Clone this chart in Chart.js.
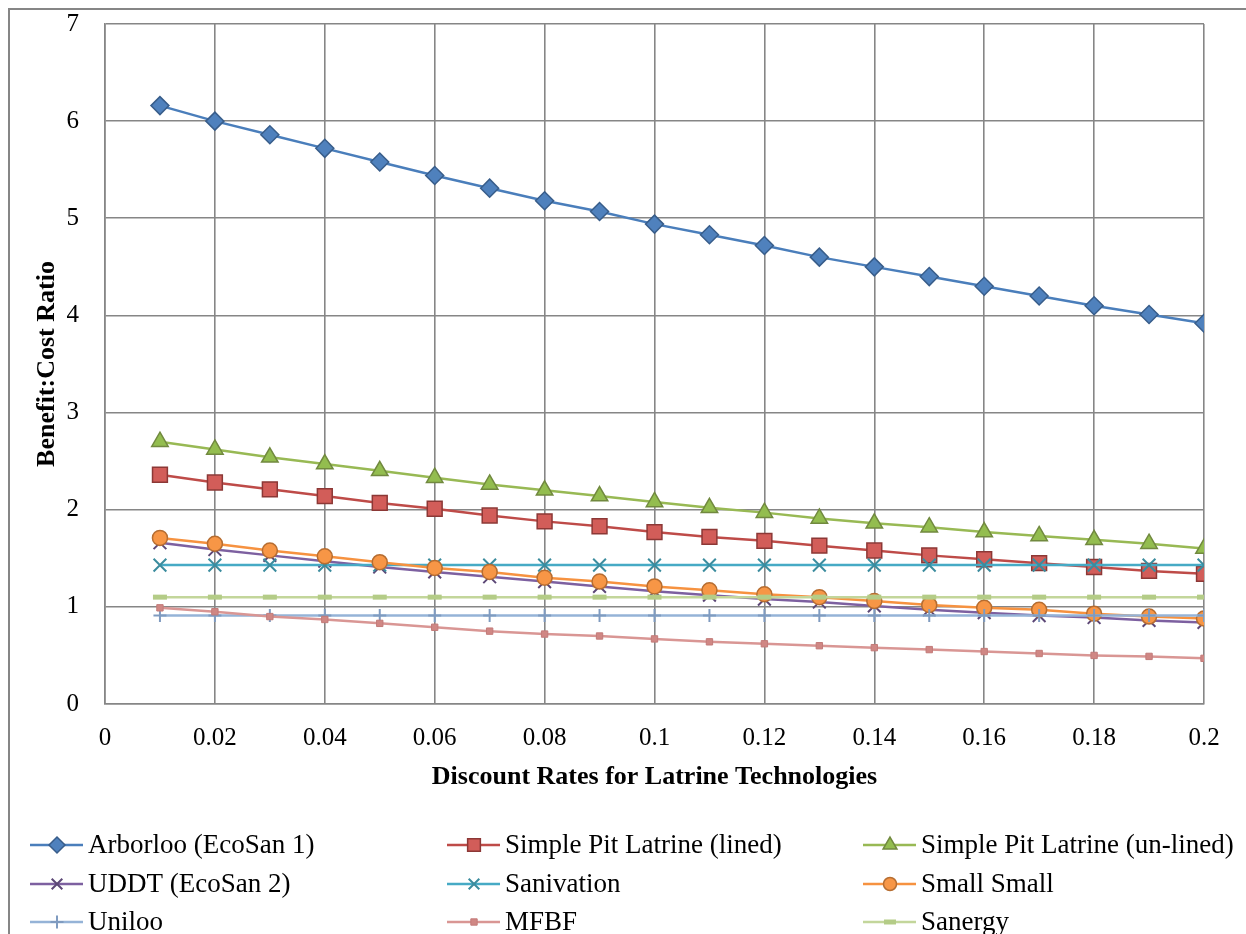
<!DOCTYPE html>
<html>
<head>
<meta charset="utf-8">
<script src="https://cdn.jsdelivr.net/npm/chart.js@4.4.1/dist/chart.umd.min.js"></script>
<style>
html,body{margin:0;padding:0;background:#fff;}
canvas{display:block;}
</style>
</head>
<body>
<canvas id="c" width="1246" height="934"></canvas>
<script>
// ---- data ----
const rates = [0.01,0.02,0.03,0.04,0.05,0.06,0.07,0.08,0.09,0.10,0.11,0.12,0.13,0.14,0.15,0.16,0.17,0.18,0.19,0.20];
const xTickLabels = ['0','0.02','0.04','0.06','0.08','0.1','0.12','0.14','0.16','0.18','0.2'];
const yTickLabels = ['0','1','2','3','4','5','6','7'];
const seriesNames = ['Arborloo (EcoSan 1)','Simple Pit Latrine (lined)','Simple Pit Latrine (un-lined)','UDDT (EcoSan 2)','Sanivation','Small Small','Uniloo','MFBF','Sanergy'];
const arborloo   = [6.16,6.00,5.86,5.72,5.58,5.44,5.31,5.18,5.07,4.94,4.83,4.72,4.60,4.50,4.40,4.30,4.20,4.10,4.01,3.92];
const pitLined   = [2.36,2.28,2.21,2.14,2.07,2.01,1.94,1.88,1.83,1.77,1.72,1.68,1.63,1.58,1.53,1.49,1.45,1.41,1.37,1.34];
const pitUnlined = [2.70,2.62,2.54,2.47,2.40,2.33,2.26,2.20,2.14,2.08,2.02,1.97,1.91,1.86,1.82,1.77,1.73,1.69,1.65,1.60];
const uddt       = [1.66,1.59,1.53,1.47,1.41,1.36,1.31,1.26,1.21,1.16,1.12,1.08,1.05,1.01,0.97,0.94,0.91,0.89,0.86,0.84];
const sanivation = [1.43,1.43,1.43,1.43,1.43,1.43,1.43,1.43,1.43,1.43,1.43,1.43,1.43,1.43,1.43,1.43,1.43,1.43,1.43,1.43];
const smallSmall = [1.71,1.65,1.58,1.52,1.46,1.40,1.36,1.30,1.26,1.21,1.17,1.13,1.10,1.06,1.02,0.99,0.97,0.93,0.90,0.88];
const uniloo     = [0.91,0.91,0.91,0.91,0.91,0.91,0.91,0.91,0.91,0.91,0.91,0.91,0.91,0.91,0.91,0.91,0.91,0.91,0.91,0.91];
const mfbf       = [0.99,0.95,0.90,0.87,0.83,0.79,0.75,0.72,0.70,0.67,0.64,0.62,0.60,0.58,0.56,0.54,0.52,0.50,0.49,0.47];
const sanergy    = [1.10,1.10,1.10,1.10,1.10,1.10,1.10,1.10,1.10,1.10,1.10,1.10,1.10,1.10,1.10,1.10,1.10,1.10,1.10,1.10];
const allSeries = [arborloo,pitLined,pitUnlined,uddt,sanivation,smallSmall,uniloo,mfbf,sanergy];

// ---- styles ----
const styles = [
  {line:'#4A7EBB', bg:'#4F81BD', bd:'#385D8A', ps:'rectRot',  r:9,   bw:1.5, lr:8},
  {line:'#BE4B48', bg:'#D25D59', bd:'#8C3836', ps:'rect',     r:10.5,bw:1.5, lr:9},
  {line:'#98B954', bg:'#93BD4F', bd:'#71893F', ps:'triangle', r:9.5, bw:1.5, lr:8},
  {line:'#7D60A0', bg:'#7D60A0', bd:'#5C4776', ps:'crossRot', r:9,   bw:2,   lr:7.5},
  {line:'#46AAC5', bg:'#46AAC5', bd:'#3B8C9E', ps:'crossRot', r:9,   bw:2,   lr:7.5},
  {line:'#F69240', bg:'#F79646', bd:'#B66D31', ps:'circle',   r:7.5, bw:1.5, lr:6.5},
  {line:'#95B3D7', bg:'#95B3D7', bd:'#7F9BC0', ps:'cross',    r:6.5, bw:2,   lr:6.5},
  {line:'#D99694', bg:'#D08784', bd:'#C27B79', ps:'rect',     r:4.5, bw:1,   lr:4.5},
  {line:'#C3D69B', bg:'#B4CC87', bd:'#B4CC87', ps:'line',     r:7,   bw:5,   lr:6}
];

const datasets = allSeries.map((arr, i) => ({
  label: seriesNames[i],
  data: rates.map((r, j) => ({x: r, y: arr[j]})),
  borderColor: styles[i].line,
  borderWidth: 2.5,
  backgroundColor: styles[i].bg,
  pointStyle: styles[i].ps,
  pointRadius: styles[i].r,
  pointHoverRadius: styles[i].r,
  pointBackgroundColor: styles[i].bg,
  pointBorderColor: styles[i].bd,
  pointBorderWidth: styles[i].bw,
  tension: 0,
  fill: false,
  order: -i
}));

const GRID = '#868686';

const framePlugin = {
  id: 'frame',
  beforeDraw(chart) {
    const ctx = chart.ctx;
    ctx.save();
    ctx.fillStyle = '#fff';
    ctx.fillRect(0, 0, chart.width, chart.height);
    ctx.strokeStyle = GRID;
    ctx.lineWidth = 2;
    ctx.strokeRect(9, 9, 1400, 1100);
    ctx.restore();
  }
};

const legendPlugin = {
  id: 'customLegend',
  afterDraw(chart) {
    const ctx = chart.ctx;
    const cols = [30, 447, 863], rows = [845, 884, 922];
    chart.data.datasets.forEach((ds, i) => {
      const st = styles[i];
      const x0 = cols[i % 3], y = rows[Math.floor(i / 3)];
      ctx.save();
      ctx.strokeStyle = st.line;
      ctx.lineWidth = 2.5;
      ctx.beginPath(); ctx.moveTo(x0, y); ctx.lineTo(x0 + 53, y); ctx.stroke();
      ctx.fillStyle = st.bg;
      ctx.strokeStyle = st.bd;
      ctx.lineWidth = st.bw;
      Chart.helpers.drawPoint(ctx, {pointStyle: st.ps, radius: st.lr, rotation: 0, borderWidth: st.bw}, x0 + 27, y);
      ctx.fillStyle = '#000';
      ctx.font = '27px "Liberation Serif"';
      ctx.textBaseline = 'middle';
      ctx.textAlign = 'left';
      ctx.fillText(ds.label, x0 + 58, y + 1);
      ctx.restore();
    });
  }
};

new Chart(document.getElementById('c'), {
  type: 'line',
  data: { datasets },
  plugins: [framePlugin, legendPlugin],
  options: {
    responsive: false,
    animation: false,
    devicePixelRatio: 1,
    layout: { padding: { left: 0, top: 24, right: 42, bottom: 141 } },
    plugins: { legend: { display: false }, tooltip: { enabled: false } },
    scales: {
      x: {
        type: 'linear',
        min: 0, max: 0.2,
        afterBuildTicks(scale) {
          scale.ticks = xTickLabels.map(t => ({ value: parseFloat(t) }));
        },
        afterFit(scale) { scale.height = 89; },
        grid: { color: GRID, lineWidth: 1.6, drawTicks: false },
        border: { color: GRID, width: 1.6 },
        ticks: {
          padding: 19,
          color: '#000',
          font: { family: 'Liberation Serif', size: 25 },
          maxRotation: 0,
          autoSkip: false,
          callback: (v, i) => xTickLabels[i]
        },
        title: {
          display: true,
          text: 'Discount Rates for Latrine Technologies',
          color: '#000',
          font: { family: 'Liberation Serif', size: 26, weight: 'bold' },
          padding: { top: 0, bottom: 0 }
        }
      },
      y: {
        type: 'linear',
        min: 0, max: 7,
        afterBuildTicks(scale) {
          scale.ticks = yTickLabels.map(t => ({ value: parseFloat(t) }));
        },
        afterFit(scale) { scale.width = 105; },
        grid: { color: GRID, lineWidth: 1.6, drawTicks: true, tickLength: 26, tickColor: 'rgba(0,0,0,0)' },
        border: { color: GRID, width: 1.6 },
        ticks: {
          padding: 0,
          color: '#000',
          font: { family: 'Liberation Serif', size: 25 },
          callback: (v, i) => yTickLabels[i]
        },
        title: {
          display: true,
          text: 'Benefit:Cost Ratio',
          color: '#000',
          font: { family: 'Liberation Serif', size: 26, weight: 'bold' },
          padding: { top: 32, bottom: 0 }
        }
      }
    }
  }
});
</script>
</body>
</html>
